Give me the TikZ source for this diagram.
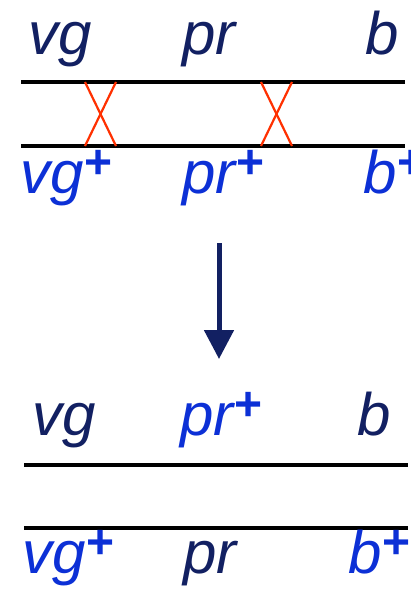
\documentclass[tikz,border=0pt]{standalone}
\usepackage{fontspec}
\setmainfont{Liberation Sans}
\usetikzlibrary{positioning, arrows.meta, calc}
\definecolor{navytext}{RGB}{18, 32, 98}
\definecolor{bluetext}{RGB}{12, 48, 214}
\definecolor{crossred}{RGB}{255, 48, 0}
\newcommand{\supplus}{\kern1pt\raisebox{15pt}{\fontsize{48pt}{48pt}\selectfont\upshape\bfseries +}}

\begin{document}
\begin{tikzpicture}[
    x=1pt, y=-1pt,
    >=Stealth,
    gene/.style={
        anchor=base west,
        inner sep=0pt,
        font=\fontsize{60pt}{60pt}\selectfont\itshape,
    },
    oldgene/.style={gene, text=navytext},
    newgene/.style={gene, text=bluetext},
    strand/.style={line width=4pt, black},
    crossover/.style={line width=2.2pt, crossred},
    downarrow/.style={-{Triangle[width=29pt, length=29pt]}, line width=5pt, navytext},
]
\useasboundingbox (0,0) rectangle (411,594);

% -- Top pair: labels above
\node[oldgene] (vga) at (28, 55) {vg};
\node[oldgene] (pra) at (182, 55) {pr};
\node[oldgene] (ba) at (365, 55) {b};

% -- Top pair: strands
\coordinate (s1w) at (21, 82);
\coordinate (s1e) at (405, 82);
\coordinate (s2w) at (21, 146);
\coordinate (s2e) at (405, 146);
\draw[strand] (s1w) -- (s1e);
\draw[strand] (s2w) -- (s2e);

% -- Top pair: labels below
\node[newgene] (vgb) at (20, 193) {vg\supplus};
\node[newgene] (prb) at (182, 193) {pr\supplus};
\node[newgene] (bb) at (363, 193) {b\supplus};

% -- Crossovers
\coordinate (xa1) at (85, 82);
\coordinate (xa2) at (116, 82);
\coordinate (xa3) at (85, 146);
\coordinate (xa4) at (116, 146);
\draw[crossover] (xa1) -- (xa4);
\draw[crossover] (xa2) -- (xa3);
\coordinate (xb1) at (261, 82);
\coordinate (xb2) at (292, 82);
\coordinate (xb3) at (261, 146);
\coordinate (xb4) at (292, 146);
\draw[crossover] (xb1) -- (xb4);
\draw[crossover] (xb2) -- (xb3);

% -- Arrow down
\coordinate (arrtop) at (219, 243);
\coordinate (arrtip) at (219, 359);
\draw[downarrow] (arrtop) -- (arrtip);

% -- Bottom pair: labels above
\node[oldgene] (vgc) at (32, 435) {vg};
\node[newgene] (prc) at (180, 435) {pr\supplus};
\node[oldgene] (bc) at (357, 435) {b};

% -- Bottom pair: strands
\coordinate (s3w) at (24, 465);
\coordinate (s3e) at (408, 465);
\coordinate (s4w) at (24, 528);
\coordinate (s4e) at (408, 528);
\draw[strand] (s3w) -- (s3e);
\draw[strand] (s4w) -- (s4e);

% -- Bottom pair: labels below
\node[newgene] (vgd) at (22, 573) {vg\supplus};
\node[oldgene] (prd) at (183, 573) {pr};
\node[newgene] (bd) at (348, 573) {b\supplus};

\end{tikzpicture}
\end{document}
